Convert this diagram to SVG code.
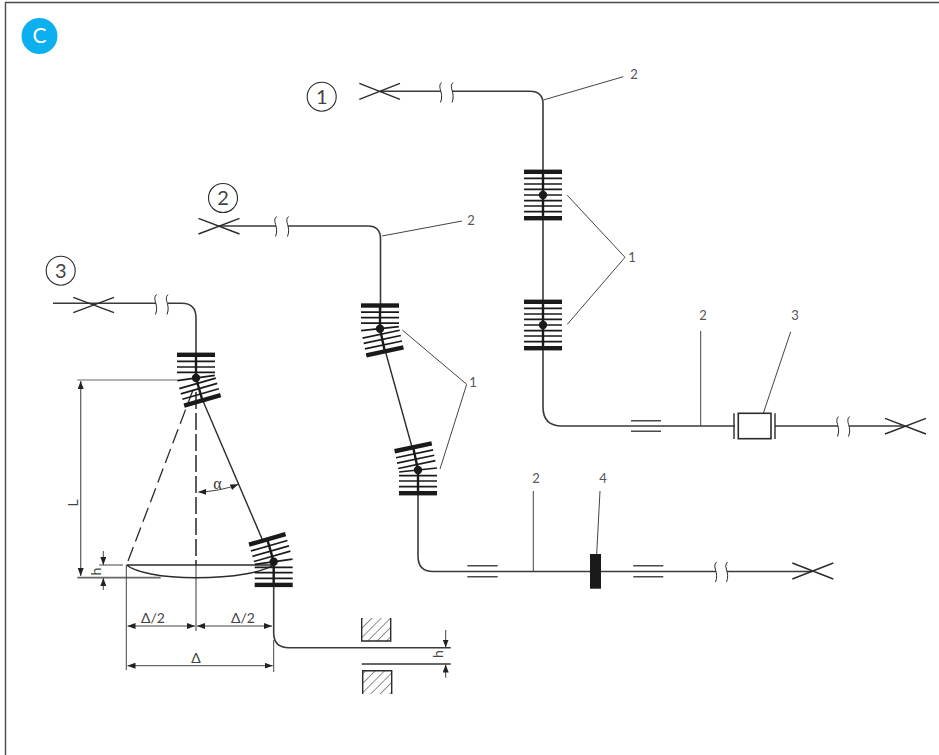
<svg xmlns="http://www.w3.org/2000/svg" width="939" height="755" viewBox="0 0 939 755">
<style>
.ln{fill:none;stroke:#2b2b2b;stroke-width:1.4}
.pipe{fill:none;stroke:#3a3a3a;stroke-width:1.6}
.thin{fill:none;stroke:#444;stroke-width:1}
.gr{fill:none;stroke:#666;stroke-width:1.8}
.dash{fill:none;stroke:#2b2b2b;stroke-width:1.3;stroke-dasharray:15 6}
.cdash{fill:none;stroke:#555;stroke-width:1.9;stroke-dasharray:17 4}
.eq{fill:none;stroke:#4a4a4a;stroke-width:1.6}
.brk{fill:none;stroke:#2b2b2b;stroke-width:1}
.t{font-family:"Lato","Liberation Sans",sans-serif;font-size:13px;fill:#555;text-anchor:middle}
.n{font-family:"Lato","Liberation Sans",sans-serif;font-size:20px;fill:#444;text-anchor:middle}
.d{font-family:"Lato","Liberation Sans",sans-serif;font-size:14px;fill:#444;text-anchor:middle}
.s{font-family:"Liberation Serif",serif;font-size:16px;fill:#333;text-anchor:middle}
.pv{fill:none;stroke:#1a1a1a;stroke-width:1.7}
</style>
<defs>
<g id="half">
<path d="M0 0V22" stroke="#1a1a1a" stroke-width="2.4" fill="none"/>
<path d="M-19 5.6H19M-19 11H19M-19 16.6H19" class="pv"/>
<rect x="-19" y="21" width="38" height="4.4" fill="#1a1a1a"/>
</g>
<path id="pv" d="M-19 0H19" class="pv"/>
<path id="br" d="M3 0C-2 5 6 10 2 20" class="brk"/>
<marker id="ar" viewBox="0 0 8 6" refX="8" refY="3" markerWidth="8" markerHeight="6" markerUnits="userSpaceOnUse" orient="auto-start-reverse"><path d="M0 0L8 3L0 6Z" fill="#222"/></marker>
<pattern id="hatch" width="6.6" height="6.6" patternUnits="userSpaceOnUse" patternTransform="rotate(45)"><path d="M0 0V6.6" stroke="#333" stroke-width="1.1" fill="none"/></pattern>
</defs>
<rect width="939" height="755" fill="#fff"/>
<path d="M5.5 755V2.5H939" fill="none" stroke="#4a4a4a" stroke-width="1.4"/>
<g id="badge"><circle cx="39.5" cy="36" r="18" fill="#0cb0ef"/><text x="39.5" y="43" font-family="Lato,Liberation Sans,sans-serif" font-size="21" fill="#fff" text-anchor="middle">C</text></g>

<g id="connectors">
<!-- system 1 -->
<path class="pipe" d="M380 91.3H441M452 91.3H530Q543 91.3 543 104V407Q543 426 562 426H735"/>
<path class="ln" d="M359.3 83.3L400 99.3M359.3 99.3L400 83.3"/>
<use href="#br" x="438.5" y="82.5"/><use href="#br" x="450" y="82.5"/>
<path class="thin" d="M543.3 100L623.3 76.7M567.3 195.3L625 257.3L567.3 324.3M700.7 331V426M790.7 331.7L763.3 413.3"/>
<path class="eq" d="M631 420.7H661M631 431.3H661"/>
<path class="pipe" d="M775 426H838M849 426H905.7"/>
<use href="#br" x="835.5" y="416.5"/><use href="#br" x="846.5" y="416.5"/>
<path class="ln" d="M885 418.3L926 434M885 434L926 418.3"/>
<!-- system 2 -->
<path class="pipe" d="M219 226H276M288 226H368Q380.5 226 380.5 239V310"/>
<path class="ln" d="M198.5 218.3L239.5 234M198.5 234L239.5 218.3"/>
<use href="#br" x="273.5" y="216.5"/><use href="#br" x="285.5" y="216.5"/>
<path class="thin" d="M382 236L462 221M402.3 330L466.7 384.3L440 469M533.3 491V571M600 491L596.7 554"/>
<path class="ln" d="M385.3 351L412.3 448.3"/>
<path class="pipe" d="M418 490V556Q418 571.5 433 571.5H716M727 571.5H812.7"/>
<path class="eq" d="M467.3 565.7H497.7M467.3 576.7H497.7M633.3 565.7H663.3M633.3 576.7H663.3"/>
<use href="#br" x="713.5" y="562"/><use href="#br" x="724.5" y="562"/>
<path class="ln" d="M792.3 563L833.3 579M792.3 579L833.3 563"/>
<!-- system 3 -->
<path class="pipe" d="M53 303.3H156M168 303.3H181.7Q196 303.3 196 318V360"/>
<path class="ln" d="M73.3 297.3L114 312.7M73.3 312.7L114 297.3"/>
<use href="#br" x="153.5" y="294.5"/><use href="#br" x="165" y="294.5"/>
<path class="ln" d="M203 401L262.5 540"/>
<path class="pipe" d="M273.7 585V633Q273.7 647.7 289 647.7H450.7"/>
<path class="gr" d="M361.7 664H450.7"/>
<path class="dash" d="M193 390L126.5 565"/>
<path class="cdash" d="M196 392V565"/>
<path class="gr" style="stroke-width:1.3" d="M196 565V631"/>
<path class="ln" d="M126.5 565H273.7M126.5 565C135 572 160 577.7 196 577.7C235 577.7 262 572 273.7 565"/>
<!-- dimensions -->
<path class="gr" style="stroke-width:1.2" d="M77.3 380H177"/>
<path class="gr" d="M77.3 577.7H160.7"/>
<path class="thin" d="M99.3 565H123"/>
<path class="gr" style="stroke-width:1.3" d="M80.7 381V576" marker-start="url(#ar)" marker-end="url(#ar)"/>
<path class="thin" d="M103.3 551V565" marker-end="url(#ar)"/>
<path class="thin" d="M103.3 590V578" marker-end="url(#ar)"/>
<path class="thin" d="M126.3 565V670M273.7 640V672"/>
<path class="thin" d="M127.5 626H195" marker-start="url(#ar)" marker-end="url(#ar)"/>
<path class="thin" d="M197 626H272" marker-start="url(#ar)" marker-end="url(#ar)"/>
<path class="thin" d="M127.5 665.7H272.7" marker-start="url(#ar)" marker-end="url(#ar)"/>
<path class="thin" d="M198.3 492Q220 491.5 238.3 484.3" marker-start="url(#ar)" marker-end="url(#ar)"/>
<path class="thin" d="M445.7 630V647.5" marker-end="url(#ar)"/>
<path class="thin" d="M445.7 677.7V664.5" marker-end="url(#ar)"/>
</g>

<g id="block-1a"><use href="#half" transform="translate(543 195) rotate(180)"/><use href="#half" transform="translate(543 195)"/><use href="#pv" x="543" y="195"/><circle cx="543" cy="195" r="4.2" fill="#1a1a1a"/></g>
<g id="block-1b"><use href="#half" transform="translate(543 325) rotate(180)"/><use href="#half" transform="translate(543 325)"/><use href="#pv" x="543" y="325"/><circle cx="543" cy="325" r="4.2" fill="#1a1a1a"/></g>
<g id="block-2a"><use href="#half" transform="translate(380 328.7) rotate(180)"/><use href="#half" transform="translate(380 328.7) rotate(-12)"/><use href="#pv" transform="translate(380 328.7) rotate(-6)"/><circle cx="380" cy="328.7" r="4.2" fill="#1a1a1a"/></g>
<g id="block-2b"><use href="#half" transform="translate(418 470) rotate(168)"/><use href="#half" transform="translate(418 470)"/><use href="#pv" transform="translate(418 470) rotate(-6)"/><circle cx="418" cy="470" r="4.2" fill="#1a1a1a"/></g>
<g id="block-3a"><use href="#half" transform="translate(196 378) rotate(180)"/><use href="#half" transform="translate(196 378) rotate(-16)"/><use href="#pv" transform="translate(196 378) rotate(-8)"/><circle cx="196" cy="378" r="4.2" fill="#1a1a1a"/></g>
<g id="block-3b"><use href="#half" transform="translate(273.7 561.7) rotate(164)"/><use href="#half" transform="translate(273.7 561.7)"/><use href="#pv" transform="translate(273.7 561.7) rotate(-8)"/><circle cx="273.7" cy="561.7" r="4.2" fill="#1a1a1a"/></g>
<g id="coupling-3"><rect x="738.3" y="413.3" width="32.7" height="25.4" fill="#fff" stroke="#2b2b2b" stroke-width="1.6"/><path class="ln" d="M734 413.3V439M775 413.3V439"/></g>
<g id="block-4"><rect x="590" y="554" width="11" height="34.7" fill="#1a1a1a"/></g>
<g id="gap-upper"><rect x="361.7" y="618" width="29" height="23" fill="url(#hatch)"/><path class="ln" d="M361.7 618V641H390.7V618"/></g>
<g id="gap-lower"><rect x="362.7" y="670.7" width="29" height="23.3" fill="url(#hatch)"/><path class="ln" d="M362.7 694V670.7H391.7V694"/></g>

<g id="labels">
<g id="mark-1"><circle cx="321.7" cy="96.7" r="14.5" fill="none" stroke="#2b2b2b" stroke-width="1.1"/><text class="n" x="321.7" y="103.7">1</text></g>
<g id="mark-2"><circle cx="223" cy="198" r="14.5" fill="none" stroke="#2b2b2b" stroke-width="1.1"/><text class="n" x="223" y="205">2</text></g>
<g id="mark-3"><circle cx="60.7" cy="270.7" r="14.5" fill="none" stroke="#2b2b2b" stroke-width="1.1"/><text class="n" x="60.7" y="277.7">3</text></g>
<text class="t" x="634" y="78.5">2</text>
<text class="t" x="632" y="262">1</text>
<text class="t" x="703" y="320">2</text>
<text class="t" x="795" y="320">3</text>
<text class="t" x="471" y="225">2</text>
<text class="t" x="473" y="387">1</text>
<text class="t" x="536" y="483">2</text>
<text class="t" x="603" y="483">4</text>
<text class="s" x="217.5" y="489">α</text>
<text class="d" x="153" y="622.5">Δ/2</text>
<text class="d" x="243" y="622.5">Δ/2</text>
<text class="d" x="196" y="662.5">Δ</text>
<text class="d" transform="translate(78 503) rotate(-90)">L</text>
<text class="d" transform="translate(101 571.5) rotate(-90)">h</text>
<text class="d" transform="translate(443 654) rotate(-90)">h</text>
</g>
</svg>
